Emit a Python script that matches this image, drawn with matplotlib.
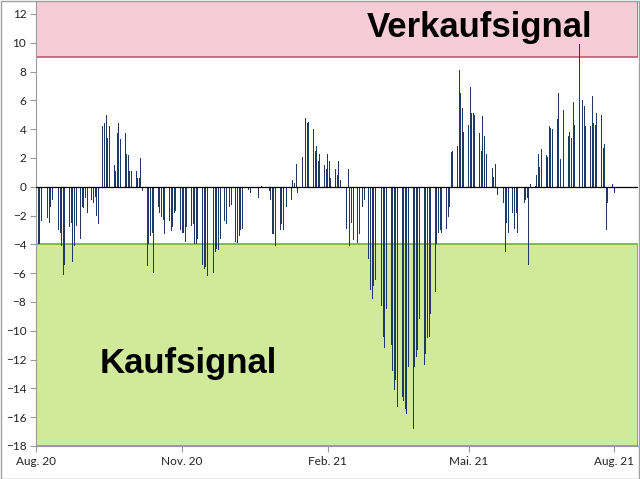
import numpy as np
import pandas as pd
import matplotlib
matplotlib.use("Agg")
import matplotlib.pyplot as plt
import matplotlib.dates as mdates
from matplotlib.patches import Rectangle

# Signal values, one per trading day (Mon-Fri), starting Mon 3 Aug 2020
signal = [
    -5.3, -4.0, -4.0, -2.4, 0.0,
    -2.2, -2.5, -1.4, -0.9, 0.0,
    -3.0, -3.2, -4.1, -6.1, -5.4,
    -2.8, -2.5, -5.2, -4.1, -2.7,
    -3.6, -1.4, -1.5, -0.8, -1.8,
    -0.9, -1.1, -0.7, -2.0, -2.6,
    4.2, 4.4, 5.0, 3.4, 4.2,
    1.5, 1.1, 3.7, 4.4, 3.3,
    3.7, 2.3, 2.2, 1.1, 1.1,
    1.1, 0.6, 0.6, 2.0, -0.3,
    -5.5, -4.0, -3.4, -3.2, -6.0,
    -1.4, -1.8, -2.1, -2.3, -3.3,
    -2.4, -3.1, -2.8, -1.8, -1.7,
    -3.0, -3.2, -3.2, -3.8, -2.8,
    -2.7, -2.6, -4.0, -4.0, -3.6,
    -5.4, -5.7, -5.6, -6.2, -5.7,
    -6.0, -4.5, -4.3, -4.4, -3.6,
    -2.4, -2.6, -2.9, -1.4, -1.3,
    -3.8, -3.9, -3.4, -3.0, -2.9,
    0.4, -0.2, -0.4, 0.0, 0.0,
    -0.8, 0.0, 0.05, 0.0, 0.0,
    -0.3, -0.9, -3.3, -3.3, -4.1,
    -3.0, -2.6, -3.0, -3.6, -1.4,
    -0.9, 0.5, 0.25, 1.6, -0.4,
    2.1, 0.4, 4.8, 4.4, 4.5,
    4.0, 2.5, 2.8, 1.8, 2.3,
    1.5, 1.2, 2.3, 1.8, 0.6,
    1.2, 0.8, 1.8, 0.5, -0.4,
    -2.9, 1.2, -4.1, -2.5, -3.7,
    -3.9, -3.3, -1.8, -1.4, -0.9,
    -5.0, -7.2, -7.8, -6.9, -6.5,
    -7.2, -8.3, -10.4, -11.2, -8.5,
    -11.0, -12.8, -14.1, -13.4, -15.3,
    -14.6, -14.9, -15.4, -15.8, -12.5,
    -16.8, -12.5, -11.8, -11.3, -9.2,
    -12.4, -11.6, -10.5, -10.4, -8.8,
    -7.3, -4.0, -3.2, -3.0, -3.2,
    -2.9, -2.1, -1.4, 2.4, 2.5,
    2.85, 8.1, 6.5, 5.5, 3.8,
    4.3, 6.9, 5.1, 5.1, 5.0,
    3.7, 2.5, 4.9, 3.5, 2.3,
    0.0, 1.3, 0.7, 1.6, -0.55,
    0.0, -1.1, -4.5, -2.5, -3.2,
    -1.8, -2.9, -1.8, -3.2, 0.0,
    -1.1, -0.9, -0.8, -5.4, 0.2,
    0.05, 0.8, 2.3, 1.4, 2.6,
    2.2, 2.1, 4.2, 4.1, 4.0,
    4.7, 6.5, 1.9, 7.3, 5.3,
    3.5, 3.8, 3.4, 5.9, 4.3,
    9.9, 8.9, 6.0, 5.6, 4.2,
    4.2, 6.3, 4.4, 4.3, 5.1,
    5.0, 2.7, 3.0, -3.0, -1.1,
    0.2, -0.4,
]
dates = pd.bdate_range("2020-08-03", periods=len(signal))

sellLevel = 9
buyLevel  = -4
yMin, yMax = -18, 12.9
tickDates  = pd.to_datetime(["2020-08-03", "2020-11-03", "2021-02-03",
                             "2021-05-03", "2021-08-03"])
tickLabels = ["Aug. 20", "Nov. 20", "Feb. 21", "Mai. 21", "Aug. 21"]

fig = plt.figure(figsize=(6.4, 4.79), dpi=100)
ax  = fig.add_axes([36/640, 1 - 446/479, 602/640, 445/479])

# signal zones
ax.axhspan(sellLevel, yMax, facecolor="#F6CCD8", edgecolor="#C9566E", lw=1.2, zorder=0)
ax.axhspan(yMin, buyLevel, facecolor="#D0E99A", edgecolor="#70AD47", lw=1.2, zorder=0)

ax.bar(dates, signal, width=0.6, color="#1F3864", linewidth=0, zorder=2)
ax.axhline(0, color="black", lw=0.9, zorder=3)

ax.set_ylim(yMin, yMax)
ax.set_xlim(mdates.date2num(pd.Timestamp("2020-08-03")) - 0.3,
            mdates.date2num(pd.Timestamp("2021-08-18")))
ax.set_yticks(np.arange(-18, 13, 2))
ax.set_xticks(tickDates)
ax.set_xticklabels(tickLabels)

for s in ["top", "right"]:
    ax.spines[s].set_visible(False)
for s in ["left", "bottom"]:
    ax.spines[s].set_color("#9A9A9A")
ax.tick_params(axis="both", colors="#9A9A9A", labelcolor="#222222",
               labelsize=8.5, length=4, width=0.8)
ax.tick_params(axis="y", pad=3)
for lbl in ax.get_xticklabels() + ax.get_yticklabels():
    lbl.set_family("Lato")

fig.text(367/640, 1 - 28/479, "Verkaufsignal", ha="left", va="center",
         fontsize=25, fontweight="bold", family="Liberation Sans")
fig.text(100/640, 1 - 363/479, "Kaufsignal", ha="left", va="center",
         fontsize=25, fontweight="bold", family="Liberation Sans")

# chart border
fig.patches.append(Rectangle((0.001, 0.001), 0.997, 0.997, transform=fig.transFigure,
                             fill=False, edgecolor="#A0A0A0", lw=1))

fig.savefig("out.png", dpi=100)
